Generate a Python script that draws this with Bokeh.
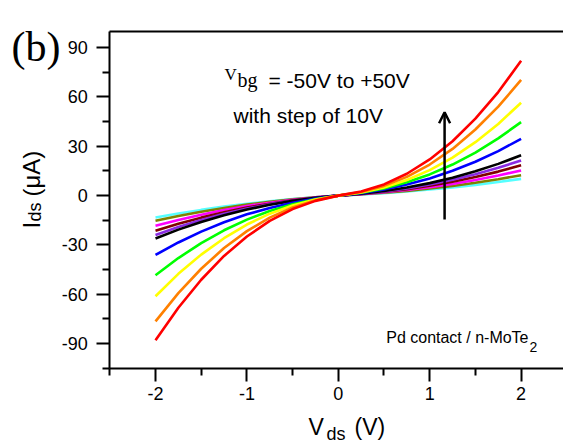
import numpy as np
from bokeh.plotting import figure
from bokeh.models import (Label, Arrow, OpenHead, FixedTicker, ColumnDataSource, LinearAxis)
from bokeh.embed import file_html
from bokeh.resources import INLINE

# ---- data ----
vds = [-2.0, -1.75, -1.5, -1.25, -1.0, -0.75, -0.5, -0.25, 0.0,
       0.25, 0.5, 0.75, 1.0, 1.25, 1.5, 1.75, 2.0]

# gate voltages -50V ... +50V (cyan ... red)
vbg_labels = ["-50V", "-40V", "-30V", "-20V", "-10V", "0V", "10V", "20V", "30V", "40V", "50V"]
colors = ["#55FFFF", "#808000", "#FF00FF", "#800000", "#8A2BE2", "#000000",
          "#0000FF", "#00FF00", "#FFFF00", "#FF8000", "#FF0000"]

ids_m50 = [-13.3, -10.9, -8.7, -6.7, -5.0, -3.4, -2.1, -1.0, 0, 0.7, 1.5, 2.5, 3.7, 5.0, 6.5, 8.3, 10.2]
ids_m40 = [-15.3, -12.4, -9.8, -7.5, -5.5, -3.8, -2.3, -1.0, 0, 0.8, 1.7, 2.9, 4.3, 5.9, 7.8, 10.0, 12.4]
ids_m30 = [-18.4, -14.8, -11.6, -8.8, -6.3, -4.3, -2.5, -1.1, 0, 0.9, 2.0, 3.4, 5.1, 7.1, 9.5, 12.2, 15.3]
ids_m20 = [-21.4, -17.1, -13.4, -10.1, -7.3, -4.9, -2.9, -1.3, 0, 1.0, 2.3, 3.9, 6.0, 8.4, 11.3, 14.6, 18.4]
ids_m10 = [-23.9, -19.1, -14.8, -11.1, -7.9, -5.2, -3.1, -1.3, 0, 1.1, 2.5, 4.4, 6.8, 9.6, 13.0, 16.9, 21.4]
ids_0 = [-26.1, -20.7, -16.0, -12.0, -8.5, -5.6, -3.2, -1.4, 0, 1.2, 2.8, 4.9, 7.6, 10.9, 14.8, 19.3, 24.5]
ids_p10 = [-36.1, -28.5, -21.9, -16.2, -11.4, -7.5, -4.3, -1.8, 0, 1.5, 3.7, 6.7, 10.4, 15.1, 20.6, 27.1, 34.5]
ids_p20 = [-48.4, -38.0, -28.9, -21.1, -14.6, -9.4, -5.2, -2.2, 0, 1.7, 4.4, 8.1, 12.9, 18.9, 26.2, 34.8, 44.7]
ids_p30 = [-61.2, -47.6, -35.9, -25.9, -17.6, -11.0, -6.0, -2.4, 0, 1.9, 4.9, 9.5, 15.5, 23.1, 32.5, 43.6, 56.5]
ids_p40 = [-76.5, -59.3, -44.5, -31.9, -21.6, -13.4, -7.2, -2.8, 0, 2.2, 5.9, 11.4, 18.9, 28.4, 40.2, 54.1, 70.4]
ids_p50 = [-88.0, -68.2, -51.2, -36.7, -24.9, -15.4, -8.2, -3.2, 0, 2.5, 6.8, 13.3, 22.0, 33.1, 46.8, 63.0, 82.0]

series = [ids_m50, ids_m40, ids_m30, ids_m20, ids_m10, ids_0,
          ids_p10, ids_p20, ids_p30, ids_p40, ids_p50]

x_ticks = [-2, -1, 0, 1, 2]
x_minor = [-2.5, -1.5, -0.5, 0.5, 1.5]
y_ticks = [-90, -60, -30, 0, 30, 60, 90]
y_minor = [-105, -75, -45, -15, 15, 45, 75]

# axis box (data units) and the visible window around it
ax_x0, ax_y0, ax_y1 = -2.5, -105, 100
win_x = (-3.696, 2.464)
win_y = (-150.2, 118.7)

SANS = "Liberation Sans"
SERIF = "Liberation Serif"

p = figure(width=563, height=442, output_backend="svg", toolbar_location=None,
           x_range=win_x, y_range=win_y, min_border=0,
           min_border_left=0, min_border_right=0, min_border_top=0, min_border_bottom=0)
p.outline_line_color = None
p.grid.visible = False
p.background_fill_color = "white"
p.border_fill_color = "white"

for ys, c in zip(series, colors):
    src = ColumnDataSource(dict(x=vds, y=ys))
    p.line("x", "y", source=src, line_color=c, line_width=2.6)

xa = p.below[0]
ya = p.left[0]

top_axis = LinearAxis(fixed_location=ax_y1, ticker=FixedTicker(ticks=[], minor_ticks=[]))
p.add_layout(top_axis, "above")

for ax in (xa, ya, top_axis):
    ax.axis_line_width = 2
    ax.axis_line_color = "black"
    ax.major_tick_line_width = 2
    ax.minor_tick_line_width = 2
    ax.major_tick_in = 0
    ax.major_tick_out = 13
    ax.minor_tick_in = 0
    ax.minor_tick_out = 7
    ax.major_label_text_font = SANS
    ax.major_label_text_font_size = "18px"
    ax.major_label_text_color = "black"
    ax.axis_label = None

top_axis.bounds = (ax_x0, win_x[1])

xa.ticker = FixedTicker(ticks=x_ticks, minor_ticks=x_minor)
ya.ticker = FixedTicker(ticks=y_ticks, minor_ticks=y_minor)
xa.major_label_overrides = {t: str(t) for t in x_ticks}
ya.major_label_overrides = {t: str(t) for t in y_ticks}
xa.fixed_location = ax_y0
ya.fixed_location = ax_x0
xa.bounds = (ax_x0, win_x[1])
ya.bounds = (ax_y0, ax_y1)
xa.major_label_standoff = 6
ya.major_label_standoff = 9


def lab(text, x, y, size, font=SANS, angle=0, align="left"):
    p.add_layout(Label(x=x, y=y, x_units="screen", y_units="screen", text=text,
                       text_font=font, text_font_size=size, text_color="black",
                       angle=angle, text_align=align, text_baseline="alphabetic"))

# panel letter
lab("(b)", 11, 396, "42px", SERIF)

# y title  I_ds (μA)
lab("I", 31, 214, "24px", angle=np.pi / 2)
lab("ds", 34, 221, "18px", angle=np.pi / 2)
lab("(μA)", 31, 246, "24px", angle=np.pi / 2)

# x title  V_ds (V)
lab("V", 308, 16, "23px")
lab("ds", 326, 9, "18px")
lab("(V)", 354, 16, "23px")

# annotation
lab("V", 224, 368.5, "17px", SERIF)
lab("bg", 237, 363, "20px", SERIF)
lab("= -50V to +50V", 268, 362, "21px")
lab("with step of 10V", 233, 327, "21px")

lab("Pd contact / n-MoTe", 528, 105, "16px", align="right")
lab("2", 529, 96, "14px")

p.add_layout(Arrow(end=OpenHead(size=11, line_width=2.5, line_color="black"),
                   x_start=1.163, y_start=-14.5, x_end=1.163, y_end=50.7,
                   line_width=2.5, line_color="black"))

open("out.html", "w").write(file_html(p, INLINE))
